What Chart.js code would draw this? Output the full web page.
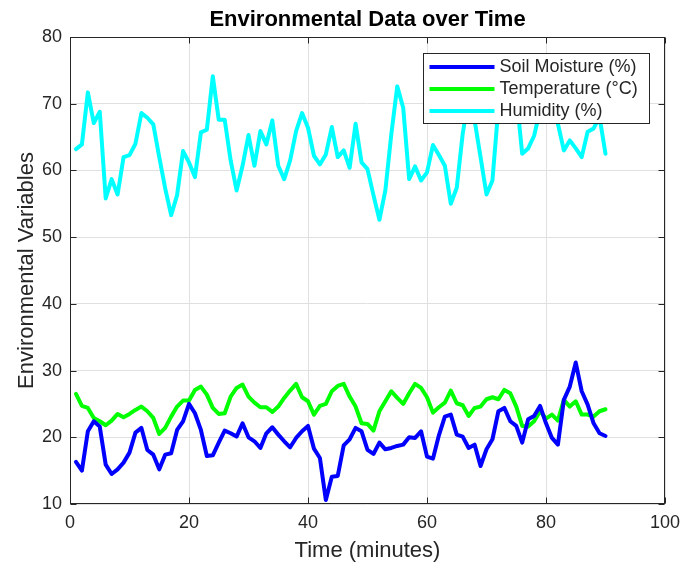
<!DOCTYPE html>
<html>
<head>
<meta charset="utf-8">
<script src="https://cdn.jsdelivr.net/npm/chart.js@4.4.1/dist/chart.umd.min.js"></script>
<style>
    html, body { margin: 0; padding: 0; background: #ffffff; }
    #wrap { width: 684px; height: 564px; }
</style>
</head>
<body>
<div id="wrap"><canvas id="envChart" width="684" height="564"></canvas></div>
<script>
// time axis (minutes)
const timeMinutes = [1, 2, 3, 4, 5, 6, 7, 8, 9, 10, 11, 12, 13, 14, 15, 16, 17, 18, 19, 20,
    21, 22, 23, 24, 25, 26, 27, 28, 29, 30, 31, 32, 33, 34, 35, 36, 37, 38, 39, 40,
    41, 42, 43, 44, 45, 46, 47, 48, 49, 50, 51, 52, 53, 54, 55, 56, 57, 58, 59, 60,
    61, 62, 63, 64, 65, 66, 67, 68, 69, 70, 71, 72, 73, 74, 75, 76, 77, 78, 79, 80,
    81, 82, 83, 84, 85, 86, 87, 88, 89, 90];

const soilMoisture = [16.3, 15.0, 20.9, 22.4, 21.6, 15.9, 14.5, 15.2, 16.2, 17.7,
    20.7, 21.4, 18.1, 17.4, 15.2, 17.4, 17.6, 21.1, 22.4, 25.0,
    23.6, 21.1, 17.2, 17.3, 19.2, 21.0, 20.6, 20.1, 22.1, 20.0,
    19.4, 18.4, 20.6, 21.5, 20.4, 19.4, 18.5, 19.9, 20.9, 21.7,
    18.3, 16.9, 10.6, 14.1, 14.2, 18.8, 19.7, 21.4, 20.9, 18.1,
    17.5, 19.2, 18.2, 18.4, 18.7, 18.9, 20.0, 19.9, 20.9, 17.1,
    16.8, 20.3, 23.1, 23.4, 20.4, 20.1, 18.4, 18.9, 15.7, 18.2,
    19.7, 23.9, 24.4, 22.4, 21.7, 19.2, 22.7, 23.2, 24.7, 22.1,
    19.9, 18.9, 25.6, 27.6, 31.2, 26.9, 24.9, 22.1, 20.6, 20.2];

const temperature = [26.5, 24.7, 24.4, 22.9, 22.4, 21.8, 22.5, 23.5, 23.0, 23.5,
    24.1, 24.6, 23.9, 22.9, 20.5, 21.4, 23.1, 24.6, 25.5, 25.5,
    27.1, 27.6, 26.4, 24.4, 23.5, 23.6, 26.1, 27.4, 27.9, 26.1,
    25.2, 24.5, 24.5, 23.8, 24.6, 25.9, 27.0, 28.0, 26.0, 25.4,
    23.4, 24.7, 25.0, 26.9, 27.7, 28.0, 26.1, 24.6, 22.1, 22.0,
    21.0, 23.9, 25.4, 26.9, 25.9, 25.0, 26.6, 28.0, 27.4, 26.0,
    23.7, 24.5, 25.2, 27.0, 25.1, 24.8, 23.2, 24.4, 24.6, 25.7,
    26.0, 25.7, 27.1, 26.6, 24.6, 21.7, 21.6, 22.4, 23.9, 22.8,
    23.4, 22.5, 25.6, 24.6, 25.4, 23.4, 23.4, 23.1, 23.9, 24.2];

const humidity = [63.2, 63.9, 71.7, 67.1, 68.8, 55.8, 58.7, 56.4, 62.0, 62.3,
    64.0, 68.6, 67.9, 66.9, 62.0, 57.3, 53.3, 56.3, 62.9, 61.2,
    59.0, 65.7, 66.1, 74.1, 67.6, 67.6, 61.5, 57.0, 60.7, 65.3,
    60.7, 65.9, 63.9, 67.5, 60.7, 58.7, 61.5, 65.9, 68.6, 66.4,
    62.2, 60.9, 62.4, 66.5, 62.0, 63.0, 60.4, 67.0, 61.2, 60.2,
    56.3, 52.6, 57.0, 65.4, 72.6, 69.4, 58.7, 60.6, 58.5, 59.7,
    63.8, 62.3, 60.7, 55.0, 57.4, 65.5, 71.0, 67.5, 62.0, 56.4,
    58.5, 69.5, 73.0, 70.0, 71.5, 62.5, 63.3, 65.2, 69.0, 71.5,
    70.0, 67.0, 63.0, 64.5, 63.3, 62.0, 65.8, 66.3, 68.0, 62.5];

const seriesLabels = ['Soil Moisture (%)', 'Temperature (°C)', 'Humidity (%)'];
const seriesColors = ['#0000ff', '#00ff00', '#00ffff'];
const xTicks = [0, 20, 40, 60, 80, 100];
const yTicks = [10, 20, 30, 40, 50, 60, 70, 80];

const axisColor = '#262626';
const gridColor = '#e0e0e0';
Chart.defaults.font.family = '"Liberation Sans", Arial, sans-serif';

const toPoints = (values) => values.map((v, i) => ({ x: timeMinutes[i], y: v }));

// frame with inward ticks + legend box drawn over the lines
const axesBox = {
    id: 'axesBox',
    afterDatasetsDraw(chart) {
        const { ctx, chartArea: a, scales } = chart;
        const L = Math.round(a.left) + 0.5, R = Math.round(a.right) - 0.5;
        const T = Math.round(a.top) + 0.5, B = Math.round(a.bottom) - 0.5;
        const tl = 6;
        ctx.save();
        ctx.strokeStyle = axisColor;
        ctx.lineWidth = 1;
        ctx.beginPath();
        xTicks.forEach(v => {
            const px = Math.round(scales.x.getPixelForValue(v)) + 0.5;
            ctx.moveTo(px, B); ctx.lineTo(px, B - tl);
            ctx.moveTo(px, T); ctx.lineTo(px, T + tl);
        });
        yTicks.forEach(v => {
            const py = Math.round(scales.y.getPixelForValue(v)) + 0.5;
            ctx.moveTo(L, py); ctx.lineTo(L + tl, py);
            ctx.moveTo(R, py); ctx.lineTo(R - tl, py);
        });
        ctx.stroke();
        ctx.strokeRect(L, T, R - L, B - T);

        // legend
        const w = 226, h = 70;
        const lx = Math.round(a.right - 16 - w) + 0.5;
        const ly = Math.round(a.top + 16) + 0.5;
        ctx.fillStyle = '#ffffff';
        ctx.fillRect(lx, ly, w, h);
        ctx.strokeStyle = axisColor;
        ctx.strokeRect(lx, ly, w, h);
        ctx.font = '18px "Liberation Sans", Arial, sans-serif';
        ctx.textBaseline = 'middle';
        ctx.textAlign = 'left';
        chart.data.datasets.forEach((ds, i) => {
            const y = ly + 13.5 + i * 22;
            ctx.strokeStyle = ds.borderColor;
            ctx.lineWidth = 4;
            ctx.beginPath();
            ctx.moveTo(lx + 6, y);
            ctx.lineTo(lx + 71, y);
            ctx.stroke();
            ctx.fillStyle = axisColor;
            ctx.fillText(ds.label, lx + 76, y);
        });
        ctx.restore();
    }
};

new Chart(document.getElementById('envChart'), {
    type: 'line',
    data: {
        datasets: [soilMoisture, temperature, humidity].map((vals, i) => ({
            label: seriesLabels[i],
            data: toPoints(vals),
            borderColor: seriesColors[i],
            backgroundColor: seriesColors[i],
            borderWidth: 4,
            borderJoinStyle: 'round',
            borderCapStyle: 'round',
            pointRadius: 0,
            tension: 0,
            fill: false
        }))
    },
    options: {
        responsive: false,
        animation: false,
        devicePixelRatio: 1,
        layout: { padding: { top: 0, right: 19, bottom: 0, left: 0 } },
        plugins: {
            legend: { display: false },
            tooltip: { enabled: false },
            title: {
                display: true,
                fullSize: false,
                text: 'Environmental Data over Time',
                color: '#000000',
                font: { size: 22, weight: 'bold', lineHeight: 1.2 },
                padding: { top: 7, bottom: 3.6 }
            }
        },
        scales: {
            x: {
                type: 'linear',
                min: 0, max: 100,
                afterFit: s => { s.height = 60; s.paddingLeft = 0; s.paddingRight = 0; },
                afterBuildTicks: s => { s.ticks = xTicks.map(v => ({ value: v })); },
                grid: { color: gridColor, drawTicks: false },
                border: { display: false },
                ticks: { color: axisColor, font: { size: 18 }, padding: 8, maxRotation: 0 },
                title: {
                    display: true, text: 'Time (minutes)', color: axisColor,
                    font: { size: 22, lineHeight: 1.2 }, padding: { top: 0, bottom: 0 }
                }
            },
            y: {
                min: 10, max: 80,
                afterFit: s => { s.width = 70; s.paddingTop = 0; s.paddingBottom = 0; },
                afterBuildTicks: s => { s.ticks = yTicks.map(v => ({ value: v })); },
                grid: { color: gridColor, drawTicks: false },
                border: { display: false },
                ticks: { color: axisColor, font: { size: 18 }, padding: 8 },
                title: {
                    display: true, text: 'Environmental Variables', color: axisColor,
                    font: { size: 22, lineHeight: 1.2 }, padding: { top: 14, bottom: 0 }
                }
            }
        }
    },
    plugins: [axesBox]
});
</script>
</body>
</html>
